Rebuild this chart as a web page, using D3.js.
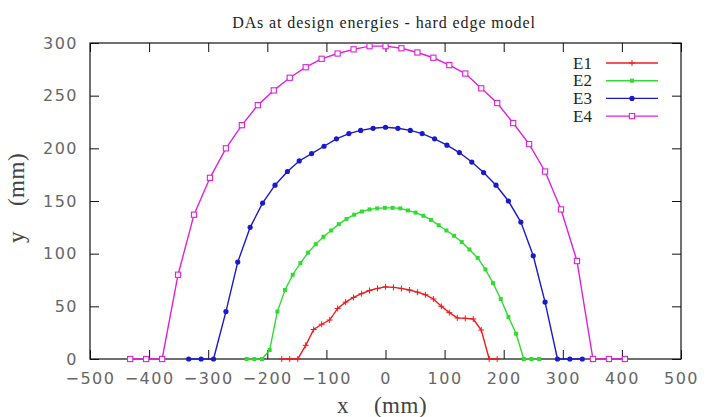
<!DOCTYPE html>
<html>
<head>
<meta charset="utf-8">
<script src="https://cdn.jsdelivr.net/npm/d3@7"></script>
<style>
  body { margin: 0; background: #fff; }
  svg { display: block; }
</style>
</head>
<body>
<div id="chart"></div>
<script>
// Dynamic apertures at the four design energies (hard edge model)
const seriesNames = ["E1", "E2", "E3", "E4"];
const seriesColors = ["#ee1c1c", "#2fdc2f", "#1a1ac8", "#dd22dd"];

const e1X = [-175.5, -162, -148.5, -135, -121.5, -108, -94.5, -81, -67.5, -54, -40.5, -27, -13.5, 0,
             13.5, 27, 40.5, 54, 67.5, 81, 94.5, 108, 121.5, 135, 148.5, 162, 175.5, 189];
const e1Y = [0, 0, 0, 13, 28, 33, 37, 48, 54, 58.5, 62, 65, 67, 68.5,
             68, 67, 65.5, 63.5, 61, 57, 50, 44, 39, 38.6, 38, 27.5, 0, 0];

const e2X = [-235, -222, -209, -196, -183, -170, -157, -144, -131, -118, -105, -92, -79, -66, -53, -40, -27, -14, -1,
             12, 25, 38, 51, 64, 77, 90, 103, 116, 129, 142, 156, 169, 182, 195, 208, 221, 234, 247, 260];
const e2Y = [0, 0, 0, 8.5, 45, 65.5, 80, 91, 101, 109, 116, 122, 128, 133, 137, 140, 142, 143, 143.5,
             143.5, 143, 141, 139, 136, 132, 127, 122, 117, 111, 104, 96, 85, 72, 57, 40, 24, 0, 0, 0];

const e3X = [-333, -312, -291, -270, -250, -229, -208, -187, -166, -146, -125, -104, -83, -62, -42, -21, 0,
             21, 42, 62, 83, 104, 125, 146, 166, 187, 208, 229, 250, 270, 291, 312, 333];
const e3Y = [0, 0, 0, 45, 92, 125, 148, 165, 178, 188, 195, 202, 209, 214, 217, 219, 220,
             219, 217, 214, 209, 203, 196, 187, 177, 165, 150, 130, 98, 54, 0, 0, 0];

const e4X = [-432, -405, -378, -351, -324, -297, -270, -243, -216, -189, -162, -135, -108, -81, -54, -27, 0,
             27, 54, 81, 108, 135, 162, 189, 216, 243, 270, 297, 324, 351, 378, 405];
const e4Y = [0, 0, 0, 80, 137, 172, 200, 222, 241, 255, 267, 277, 285, 290, 294, 297, 297,
             295, 291, 286, 279, 271, 257, 243, 224, 204, 178, 142, 93, 0, 0, 0];

const xTicks = [-500, -400, -300, -200, -100, 0, 100, 200, 300, 400, 500];
const yTicks = [0, 50, 100, 150, 200, 250, 300];

const width = 706, height = 417;
const plot = { left: 90, right: 681, top: 43, bottom: 359 };

const series = seriesNames.map((name, i) => {
    const xs = [e1X, e2X, e3X, e4X][i];
    const ys = [e1Y, e2Y, e3Y, e4Y][i];
    return { name: name, color: seriesColors[i], marker: i, points: xs.map((x, j) => ({ x: x, y: ys[j] })) };
});

const svg = d3.select("#chart").append("svg")
    .attr("width", width)
    .attr("height", height);

svg.append("rect").attr("width", width).attr("height", height).attr("fill", "#fff");

const x = d3.scaleLinear().domain([-500, 500]).range([plot.left, plot.right]);
const y = d3.scaleLinear().domain([0, 300]).range([plot.bottom, plot.top]);

// Axes: ticks point inward on all four sides
const tickFont = g => g.selectAll("text")
    .attr("font-family", "DejaVu Sans, sans-serif")
    .attr("font-size", 16)
    .attr("letter-spacing", 1.5)
    .attr("fill", "#666");

svg.append("g")
    .attr("transform", `translate(0,${plot.bottom})`)
    .call(d3.axisBottom(x).tickValues(xTicks).tickSizeInner(-9).tickSizeOuter(0).tickPadding(14))
    .call(g => g.select(".domain").remove())
    .call(tickFont);

svg.append("g")
    .attr("transform", `translate(${plot.left},0)`)
    .call(d3.axisLeft(y).tickValues(yTicks).tickSizeInner(-9).tickSizeOuter(0).tickPadding(12))
    .call(g => g.select(".domain").remove())
    .call(tickFont);

svg.append("g")
    .attr("transform", `translate(0,${plot.top})`)
    .call(d3.axisTop(x).tickValues(xTicks).tickSizeInner(-9).tickSizeOuter(0).tickFormat(""))
    .call(g => g.select(".domain").remove());

svg.append("g")
    .attr("transform", `translate(${plot.right},0)`)
    .call(d3.axisRight(y).tickValues(yTicks).tickSizeInner(-9).tickSizeOuter(0).tickFormat(""))
    .call(g => g.select(".domain").remove());

svg.selectAll(".tick line").attr("stroke", "#111");

// Frame
svg.append("rect")
    .attr("x", plot.left).attr("y", plot.top)
    .attr("width", plot.right - plot.left).attr("height", plot.bottom - plot.top)
    .attr("fill", "none").attr("stroke", "#111").attr("stroke-width", 1.2);

// Marker drawing: plus, filled square, filled circle, open square
function drawMarker(sel, type, color) {
    if (type === 0) {
        sel.append("path").attr("d", "M-3,0H3M0,-3V3").attr("stroke", color).attr("stroke-width", 1);
    } else if (type === 1) {
        sel.append("rect").attr("x", -2).attr("y", -2).attr("width", 4).attr("height", 4).attr("fill", color);
    } else if (type === 2) {
        sel.append("circle").attr("r", 2.6).attr("fill", color);
    } else {
        sel.append("rect").attr("x", -2.6).attr("y", -2.6).attr("width", 5.2).attr("height", 5.2)
            .attr("fill", "#fff").attr("stroke", color).attr("stroke-width", 1.1);
    }
}

const line = d3.line().x(d => x(d.x)).y(d => y(d.y));

const gSeries = svg.append("g");
series.forEach(s => {
    gSeries.append("path")
        .datum(s.points)
        .attr("d", line)
        .attr("fill", "none")
        .attr("stroke", s.color)
        .attr("stroke-width", 1.4);
    gSeries.append("g").selectAll("g")
        .data(s.points)
        .join("g")
        .attr("transform", d => `translate(${x(d.x)},${y(d.y)})`)
        .each(function () { drawMarker(d3.select(this), s.marker, s.color); });
});

// Legend
const legend = svg.append("g");
series.forEach((s, i) => {
    const ly = 63 + i * 17.7;
    legend.append("text")
        .attr("x", 592).attr("y", ly + 5.5)
        .attr("text-anchor", "end")
        .attr("font-family", "Liberation Serif, serif")
        .attr("font-size", 17)
        .attr("fill", "#222")
        .text(s.name);
    legend.append("line")
        .attr("x1", 606).attr("x2", 658).attr("y1", ly).attr("y2", ly)
        .attr("stroke", s.color).attr("stroke-width", 1.4);
    drawMarker(legend.append("g").attr("transform", `translate(632,${ly})`), s.marker, s.color);
});

// Titles
svg.append("text")
    .attr("x", 384).attr("y", 28)
    .attr("text-anchor", "middle")
    .attr("font-family", "Liberation Serif, serif")
    .attr("font-size", 16)
    .attr("letter-spacing", 0.9)
    .attr("fill", "#222")
    .text("DAs at design energies - hard edge model");

svg.append("text")
    .attr("x", 382).attr("y", 413)
    .attr("text-anchor", "middle")
    .attr("font-family", "Liberation Serif, serif")
    .attr("font-size", 23)
    .attr("letter-spacing", 0.5)
    .attr("fill", "#444")
    .style("white-space", "pre")
    .text("x    (mm)");

svg.append("text")
    .attr("transform", "translate(24,198) rotate(-90)")
    .attr("text-anchor", "middle")
    .attr("font-family", "Liberation Serif, serif")
    .attr("font-size", 23)
    .attr("letter-spacing", 0.5)
    .attr("fill", "#444")
    .style("white-space", "pre")
    .text("y    (mm)");
</script>
</body>
</html>
